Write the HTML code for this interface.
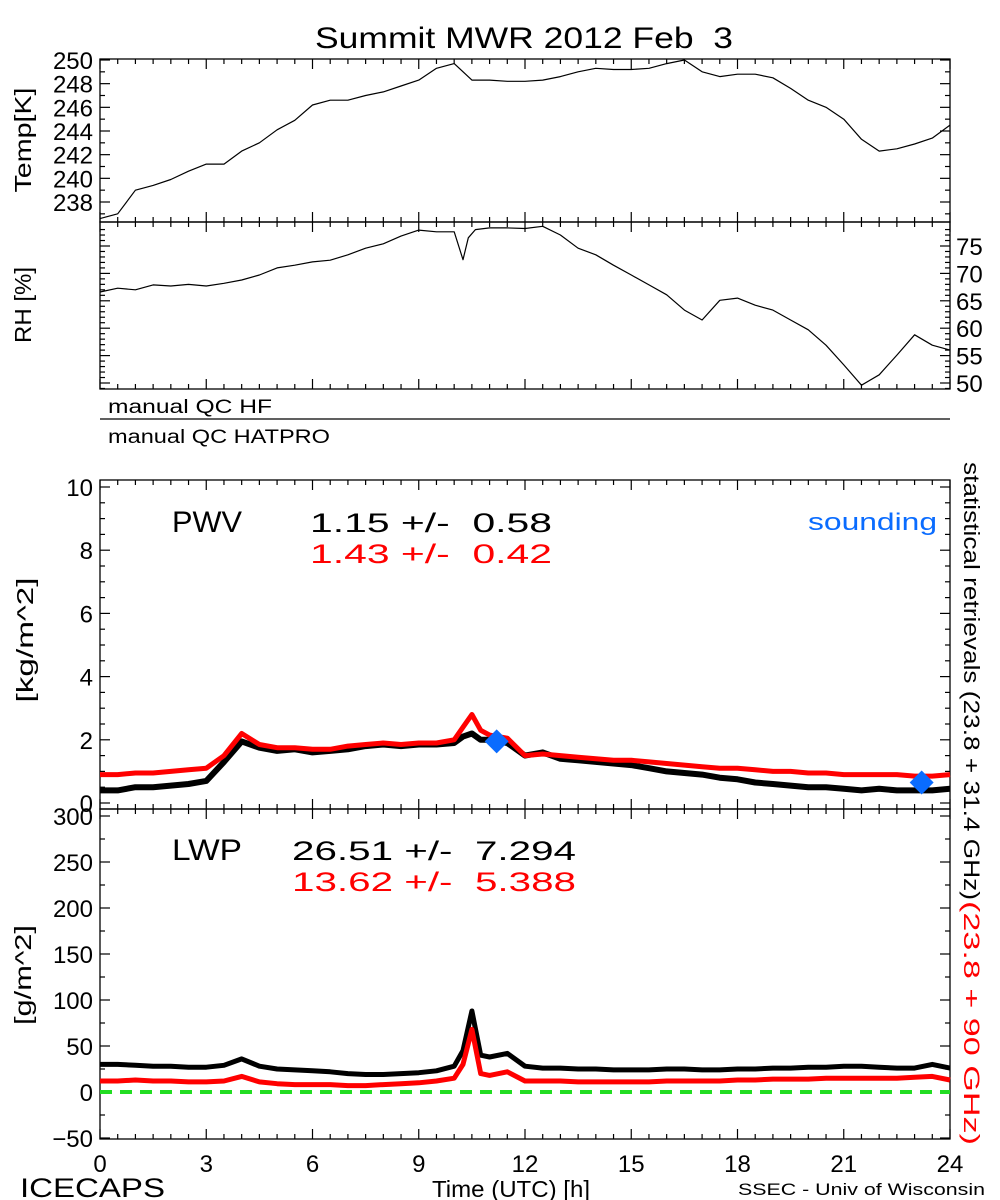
<!DOCTYPE html>
<html><head><meta charset="utf-8"><style>
body{margin:0;background:#fff;}
svg{display:block;font-family:"Liberation Sans",sans-serif;}
text{white-space:pre;}
</style></head><body>
<svg id="c" width="1000" height="1200" viewBox="0 0 1000 1200"></svg>
<script>
// ---- data ----
const tempTimes=[0,0.5,1,1.5,2,2.5,3,3.5,4,4.5,5,5.5,6,6.5,7,7.5,8,8.5,9,9.5,10,10.5,11,11.5,12,12.5,13,13.5,14,14.5,15,15.5,16,16.5,17,17.5,18,18.5,19,19.5,20,20.5,21,21.5,22,22.5,23,23.5,24];
const tempValues=[236.6,237,239,239.4,239.9,240.6,241.2,241.2,242.3,243,244.1,244.9,246.2,246.6,246.6,247,247.3,247.8,248.3,249.3,249.7,248.3,248.3,248.2,248.2,248.3,248.6,249,249.3,249.2,249.2,249.3,249.7,250,249,248.6,248.8,248.8,248.5,247.6,246.6,246,245,243.3,242.3,242.5,242.9,243.4,244.5];
const rhTimes=[0,0.5,1,1.5,2,2.5,3,3.5,4,4.5,5,5.5,6,6.5,7,7.5,8,8.5,9,9.5,10,10.25,10.4,10.6,11,11.5,12,12.5,13,13.5,14,14.5,15,15.5,16,16.5,17,17.5,18,18.5,19,19.5,20,20.5,21,21.5,22,22.5,23,23.5,24];
const rhValues=[66.6,67.3,67,67.9,67.7,68,67.7,68.2,68.8,69.7,71,71.5,72.1,72.4,73.4,74.6,75.4,76.8,77.9,77.6,77.6,72.5,76.5,78,78.3,78.3,78.2,78.6,77,74.6,73.4,71.5,69.7,67.9,66.1,63.3,61.5,65.1,65.5,64.2,63.3,61.5,59.7,56.9,53.3,49.6,51.5,55.1,58.8,56.9,56];
const pwvTimes=[0,0.5,1,1.5,2,2.5,3,3.5,4,4.5,5,5.5,6,6.5,7,7.5,8,8.5,9,9.5,10,10.25,10.5,10.75,11,11.5,12,12.5,13,13.5,14,14.5,15,15.5,16,16.5,17,17.5,18,18.5,19,19.5,20,20.5,21,21.5,22,22.5,23,23.5,24];
const pwvHF=[0.4,0.4,0.5,0.5,0.55,0.6,0.7,1.3,1.95,1.75,1.65,1.7,1.6,1.65,1.7,1.8,1.85,1.8,1.85,1.85,1.9,2.1,2.2,2.0,2.0,1.9,1.5,1.6,1.4,1.35,1.3,1.25,1.2,1.1,1.0,0.95,0.9,0.8,0.75,0.65,0.6,0.55,0.5,0.5,0.45,0.4,0.45,0.4,0.4,0.4,0.45];
const pwvHATPRO=[0.9,0.9,0.95,0.95,1.0,1.05,1.1,1.5,2.2,1.85,1.75,1.75,1.7,1.7,1.8,1.85,1.9,1.85,1.9,1.9,2.0,2.4,2.8,2.3,2.15,2.05,1.5,1.55,1.5,1.45,1.4,1.35,1.35,1.3,1.25,1.2,1.15,1.1,1.1,1.05,1.0,1.0,0.95,0.95,0.9,0.9,0.9,0.9,0.85,0.85,0.9];
const soundTimes=[11.2,23.2];
const soundValues=[1.95,0.65];
const lwpTimes=[0,0.5,1,1.5,2,2.5,3,3.5,4,4.5,5,5.5,6,6.5,7,7.5,8,8.5,9,9.5,10,10.25,10.5,10.75,11,11.5,12,12.5,13,13.5,14,14.5,15,15.5,16,16.5,17,17.5,18,18.5,19,19.5,20,20.5,21,21.5,22,22.5,23,23.5,24];
const lwpHF=[30,30,29,28,28,27,27,29,36,28,25,24,23,22,20,19,19,20,21,23,28,45,88,40,38,42,28,26,26,25,25,24,24,24,25,25,24,24,25,25,26,26,27,27,28,28,27,26,26,30,26];
const lwpHATPRO=[12,12,13,12,12,11,11,12,17,11,9,8,8,8,7,7,8,9,10,12,15,30,68,20,18,22,12,12,12,11,11,11,11,11,12,12,12,12,13,13,14,14,14,15,15,15,15,15,16,17,13];
const xTicks=[0,3,6,9,12,15,18,21,24];
const tempTicks=[238,240,242,244,246,248,250];
const rhTicks=[50,55,60,65,70,75];
const pwvTicks=[0,2,4,6,8,10];
const lwpTicks=[-50,0,50,100,150,200,250,300];

// ---- scales ----
const X0=100,X1=950;
const sx=t=>X0+(X1-X0)*t/24;
const lin=(v0,p0,v1,p1)=>v=>p0+(v-v0)*(p1-p0)/(v1-v0);
const syT=lin(238,202,250,60);
const syR=lin(50,383,75,246);
const syP=lin(0,803,10,487);
const syL=lin(0,1092,300,816);

const svg=document.getElementById('c');
const NS='http://www.w3.org/2000/svg';
function mk(tag,attrs,parent){const e=document.createElementNS(NS,tag);for(const k in attrs)e.setAttribute(k,attrs[k]);(parent||svg).appendChild(e);return e;}
function txt(s,x,y,size,opts){const e=mk('text',Object.assign({x:x,y:y,'font-size':size,fill:'#000'},opts||{}));e.textContent=s;return e;}
function fit(e,len){e.setAttribute('textLength',len);e.setAttribute('lengthAdjust','spacingAndGlyphs');return e;}

// title
let t=fit(txt('Summit MWR 2012 Feb  3',315,48,30,{}),418);



function panel(name,y0,y1){
  const g=mk('g',{});
  
  
  mk('rect',{x:X0,y:y0,width:X1-X0,height:y1-y0,fill:'none',stroke:'#000','stroke-width':1.3},g);
  for(let h=0;h<=24;h+=0.5){
    const x=sx(h);const L=(h%3===0)?10:5;
    mk('line',{x1:x,y1:y1,x2:x,y2:y1-L,stroke:'#000','stroke-width':1.2},g);
    mk('line',{x1:x,y1:y0,x2:x,y2:y0+L,stroke:'#000','stroke-width':1.2},g);
  }
  return g;
}
function yTicks(g,ticks,minorStep,sy,lo,hi,side,labels){
  for(let v=lo;v<=hi+1e-9;v+=minorStep){
    const y=sy(v);const maj=ticks.some(k=>Math.abs(k-v)<1e-6);const L=maj?10:5;
    if(side!=='right')mk('line',{x1:X0,y1:y,x2:X0+L,y2:y,stroke:'#000','stroke-width':1.2},g);
    if(side!=='left')mk('line',{x1:X1,y1:y,x2:X1-L,y2:y,stroke:'#000','stroke-width':1.2},g);
  }
  if(labels){ticks.forEach(v=>{
    const l=labels==='right'?txt(String(v),956,sy(v)+9,24,{}):txt(String(v).replace('-','\u2212'),93,sy(v)+9,24,{'text-anchor':'end'});
    
    
  });}
}
function line(g,times,vals,sy,color,w,name){
  const d=times.map((tt,i)=>(i?'L':'M')+sx(tt).toFixed(1)+','+sy(vals[i]).toFixed(1)).join('');
  const p=mk('path',{d:d,fill:'none',stroke:color,'stroke-width':w,'stroke-linejoin':'round'},g);
  
  
  return p;
}

// temp panel
const gT=panel('temperature-panel',59,222);
yTicks(gT,tempTicks,1,syT,237,250,'both','left');
line(gT,tempTimes,tempValues,syT,'#000',1.2,'temperature-line');
t=fit(txt('Temp[K]',0,0,23,{transform:'translate(31,140) rotate(-90)','text-anchor':'middle'}),105);



// rh panel
const gR=panel('rh-panel',222,389);
yTicks(gR,rhTicks,1,syR,49,78,'both','right');
line(gR,rhTimes,rhValues,syR,'#000',1.2,'rh-line');
t=fit(txt('RH [%]',0,0,23,{transform:'translate(31,305) rotate(-90)','text-anchor':'middle'}),76);



// QC
t=fit(txt('manual QC HF',108,413,19,{}),164);


let l=mk('line',{x1:X0,y1:419,x2:X1,y2:419,stroke:'#000','stroke-width':1.3});


t=fit(txt('manual QC HATPRO',108,443,19,{}),222);



// PWV panel
const gP=panel('pwv-panel',480,809);
yTicks(gP,pwvTicks,0.5,syP,0,10,'both','left');
line(gP,pwvTimes,pwvHF,syP,'#000',6,'pwv-hf-line');
line(gP,pwvTimes,pwvHATPRO,syP,'#f00',5,'pwv-hatpro-line');
soundTimes.forEach((tt,i)=>{
  const x=sx(tt),y=syP(soundValues[i]);
  const d=mk('path',{d:`M${x},${y-12}L${x+12},${y}L${x},${y+12}L${x-12},${y}Z`,fill:'#0a6cff'},gP);
  
  
});
t=fit(txt('PWV',172,532,30,{}),70);
t=fit(txt('1.15 +/-  0.58',310,532,27,{}),242);
t=fit(txt('1.43 +/-  0.42',310,563,27,{fill:'#f00'}),242);
t=fit(txt('sounding',808,530,24,{fill:'#0a6cff'}),129);
t=fit(txt('[kg/m^2]',0,0,23,{transform:'translate(33,640) rotate(-90)','text-anchor':'middle'}),125);


// LWP panel
const gL=panel('lwp-panel',809,1139);
yTicks(gL,lwpTicks,25,syL,-50,300,'both','left');
const z=mk('line',{x1:X0,y1:syL(0),x2:X1,y2:syL(0),stroke:'#22dd22','stroke-width':4,'stroke-dasharray':'12,8'},gL);

line(gL,lwpTimes,lwpHF,syL,'#000',5,'lwp-hf-line');
line(gL,lwpTimes,lwpHATPRO,syL,'#f00',5,'lwp-hatpro-line');
t=fit(txt('LWP',172,860,30,{}),70);
t=fit(txt('26.51 +/-  7.294',292,860,27,{}),284);
t=fit(txt('13.62 +/-  5.388',292,891,27,{fill:'#f00'}),284);
t=fit(txt('[g/m^2]',0,0,23,{transform:'translate(31,975) rotate(-90)','text-anchor':'middle'}),100);


// right vertical legend
const rt1=fit(txt('statistical retrievals (23.8 + 31.4 GHz)',0,0,22,{transform:'translate(964,462) rotate(90)'}),438);


const rt2=fit(txt('(23.8 + 90 GHz)',0,0,22,{transform:'translate(964,901) rotate(90)',fill:'#f00'}),244);



// x ticks
xTicks.forEach(h=>{
  const e=txt(String(h),sx(h),1172,24,{'text-anchor':'middle'});
  
  
});
t=fit(txt('ICECAPS',20,1197,27,{}),145);
t=fit(txt('Time (UTC) [h]',432,1197,23,{}),158);
t=fit(txt('SSEC - Univ of Wisconsin',738,1195,17,{}),247);
</script>
</body></html>
